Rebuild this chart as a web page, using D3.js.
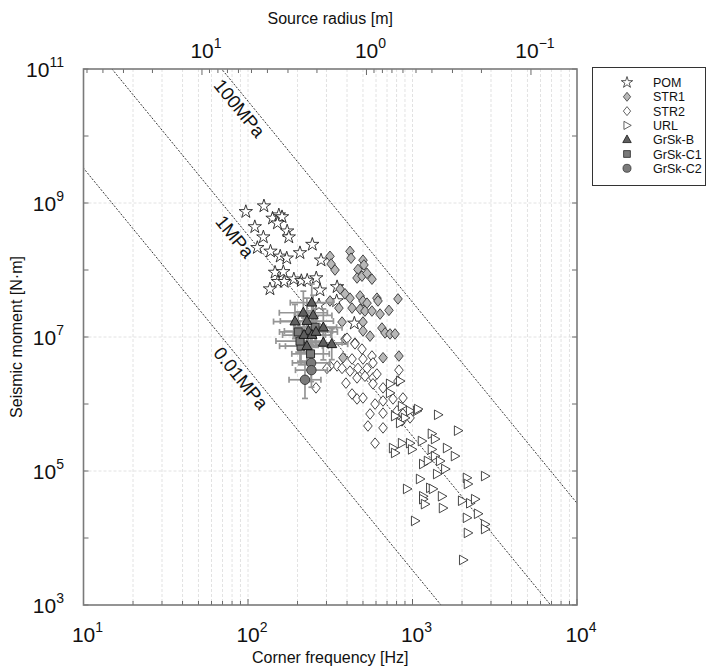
<!DOCTYPE html>
<html>
  <head>
    <meta charset="utf-8">
    <title>Seismic moment vs corner frequency</title>
    <script src="https://d3js.org/d3.v7.min.js"></script>
    <style>
      body { margin: 0; background: #fff; font-family: "Liberation Sans", Arial, sans-serif; }
      svg text { fill: #111; }
    </style>
  </head>
  <body>
    <svg></svg>
    <script>
      // [corner frequency Hz, seismic moment N.m]
      var pom = [[97,7.4e8],[125,9.0e8],[141,5.9e8],[154,6.6e8],[161,6.2e8],[151,5.0e8],[110,4.4e8],
        [124,3.1e8],[173,3.8e8],[177,3.1e8],[246,2.4e8],[114,2.15e8],[137,1.9e8],[207,1.8e8],
        [157,1.6e8],[172,1.5e8],[278,1.4e8],[146,9.2e7],[164,9.4e7],[152,6.7e7],[166,6.7e7],
        [190,7.3e7],[211,6.9e7],[229,7.0e7],[260,7.6e7],[136,5.2e7],[274,5.0e7],[346,3.45e7],
        [443,1.6e7],[348,5.6e7],[270,3.0e7]];

      var str1 = [[315,1.6e8],[320,1.23e8],[338,1.0e8],[417,1.9e8],[423,1.5e8],[500,1.4e8],[507,1.19e8],
        [466,1.02e8],[460,7.6e7],[493,8.1e7],[529,8.9e7],[567,7.3e7],[363,5.2e7],[389,4.4e7],
        [417,3.8e7],[480,4.1e7],[500,3.45e7],[529,3.2e7],[608,3.8e7],[617,3.45e7],[816,3.7e7],
        [357,2.7e7],[429,2.7e7],[480,2.6e7],[514,2.44e7],[567,2.44e7],[635,2.2e7],[719,2.5e7],
        [373,1.67e7],[500,1.67e7],[652,1.36e7],[681,1.15e7],[730,1.11e7],[783,1.11e7],[500,1.23e7],
        [552,1.03e7],[389,9.3e6],[447,8.1e6],[827,5.2e6],[662,4.9e6],[378,4.9e6],[315,3.45e7]];

      var str2 = [[493,6.6e6],[567,5.2e6],[500,4.7e6],[429,4.7e6],[348,3.7e6],[466,3.4e6],[529,3.4e6],
        [460,2.45e6],[514,2.6e6],[575,2.45e6],[394,2.05e6],[575,2.0e6],[827,3.2e6],[816,2.2e6],
        [662,1.74e6],[429,1.41e6],[460,1.19e6],[500,1.23e6],[592,1.0e6],[662,1.11e6],[761,1.19e6],
        [552,7.1e5],[662,7.3e5],[805,7.9e5],[875,1.23e6],[536,4.7e5],[662,4.4e5],[966,6.2e5],
        [315,3.7e6],[373,3.4e6],[417,3.1e6],[575,4.1e6],[608,2.8e6],[259,1.74e6],[302,3.4e6],
        [592,2.6e5],[863,5.6e5],[875,7.1e5],[400,9.6e6],[447,7.9e6]];

      var url = [[730,2.0e6],[840,2.2e6],[1430,6.9e5],[1890,4.0e5],[1310,3.6e5],[1370,3.0e5],[1620,2.2e5],
        [1810,1.67e5],[1310,2.1e5],[761,2.2e5],[783,1.86e5],[863,2.6e5],[966,2.6e5],[1140,2.8e5],
        [993,2.1e5],[1370,1.67e5],[1470,1.41e5],[1580,1.07e5],[1160,1.27e5],[1240,1.41e5],[1410,9.0e4],
        [1110,7.6e4],[926,5.4e4],[1280,5.6e4],[1330,5.4e4],[1160,4.2e4],[1160,3.8e4],[1190,3.2e4],
        [1510,4.2e4],[1530,2.8e4],[2140,7.9e4],[2170,6.4e4],[2760,8.4e4],[2000,3.6e4],[2240,3.3e4],
        [2400,3.8e4],[2140,2.0e4],[2500,2.3e4],[2760,1.6e4],[2760,1.36e4],[2170,1.19e4],[1036,1.8e4],
        [2030,4.7e3],[730,1.46e6],[863,9.3e5],[966,7.9e5],[900,6.2e5],[1065,7.9e5],[783,6.6e5],
        [840,5.2e5],[1080,8.4e5]];

      // [fc, M0, fc error factor, M0 error factor]
      var grskB = [[244,3.25e7,1.35,1.9],[217,2.3e7,1.4,2.1],[249,2.1e7,1.3,2.0],[193,1.7e7,1.35,1.8],
        [228,1.73e7,1.45,2.2],[287,1.38e7,1.3,1.9],[233,1.23e7,1.4,2.0],[219,1.07e7,1.35,1.8],
        [245,1.07e7,1.3,2.1],[259,1.19e7,1.35,1.7],[287,8.2e6,1.3,1.8],[323,7.8e6,1.25,1.7],
        [228,7.3e6,1.35,1.9]];
      var grskC1 = [[256,1.4e7,1.35,1.9],[202,1.19e7,1.3,2.0],[210,7.3e6,1.35,1.9],[240,5.6e6,1.3,1.8],
        [207,8.7e6,1.4,2.0]];
      var grskC2 = [[242,4.1e6,1.3,1.9],[243,3.2e6,1.25,1.8],[222,2.3e6,1.25,1.9]];

      var stressDrops = [1e8, 1e6, 1e4];           // Pa
      var stressLabels = ["100MPa", "1MPa", "0.01MPa"];
      var stressLabelM0 = [3.3e10, 4.0e8, 3.1e6];   // where the label sits along its line
      var radiusConst = 525;                        // source radius = radiusConst / fc

      var xTicksMajor = [1e1, 1e2, 1e3, 1e4];
      var xTickExp = ["1", "2", "3", "4"];
      var yTicksMajor = [1e3, 1e5, 1e7, 1e9, 1e11];
      var yTickExp = ["3", "5", "7", "9", "11"];
      var rTicksMajor = [10, 1, 0.1];
      var rTickExp = ["1", "0", "-1"];

      var legendNames = ["POM", "STR1", "STR2", "URL", "GrSk-B", "GrSk-C1", "GrSk-C2"];

      var W = 712, H = 667;
      var L = 83.5, R = 577, T = 69, B = 605;

      var svg = d3.select("svg").attr("width", W).attr("height", H);

      var x = d3.scaleLog().domain([10, 1e4]).range([L, R]);
      var y = d3.scaleLog().domain([1e3, 1e11]).range([B, T]);
      var xTop = d3.scaleLog().domain([radiusConst / 10, radiusConst / 1e4]).range([L, R]);

      // minor ticks of the frequency axis
      var xMinor = [];
      [10, 100, 1000].forEach(function(d) {
        for (var k = 1; k < 10; k++) xMinor.push(d * k);
      });
      xMinor.push(1e4);

      // grid
      var grid = svg.append("g").attr("stroke", "#dadada").attr("stroke-dasharray", "3,2").attr("stroke-width", 0.8);
      grid.selectAll("line.v").data(xMinor.filter(function(d) { return d > 10 && d < 1e4; }))
        .enter().append("line")
          .attr("x1", function(d) { return x(d); }).attr("x2", function(d) { return x(d); })
          .attr("y1", T).attr("y2", B);
      grid.selectAll("line.h").data([1e5, 1e7, 1e9])
        .enter().append("line")
          .attr("x1", L).attr("x2", R)
          .attr("y1", function(d) { return y(d); }).attr("y2", function(d) { return y(d); });

      var plot = svg.append("g");
      svg.append("clipPath").attr("id", "clip").append("rect")
        .attr("x", L).attr("y", T).attr("width", R - L).attr("height", B - T);

      // constant stress drop lines: M0 = 16/7 * dsigma * r^3, r = radiusConst / fc
      function m0At(ds, fc) { var r = radiusConst / fc; return 16 / 7 * ds * r * r * r; }
      function fcAt(ds, m0) { return radiusConst / Math.cbrt(m0 / (16 / 7 * ds)); }
      var sd = plot.append("g").attr("clip-path", "url(#clip)");
      stressDrops.forEach(function(ds) {
        sd.append("line")
          .attr("x1", x(1)).attr("y1", y(m0At(ds, 1)))
          .attr("x2", x(1e5)).attr("y2", y(m0At(ds, 1e5)))
          .attr("stroke", "#222").attr("stroke-width", 0.9).attr("stroke-dasharray", "2,1.5");
      });
      var ang = Math.atan2(y(1e3) - y(1e6), x(1e2) - x(10)) * 180 / Math.PI;
      stressDrops.forEach(function(ds, i) {
        var m = stressLabelM0[i];
        var px = x(fcAt(ds, m)), py = y(m);
        svg.append("text")
          .attr("transform", "translate(" + px + "," + py + ") rotate(" + ang + ")")
          .attr("text-anchor", "middle").attr("dy", "0.95em")
          .attr("font-size", 18.5).text(stressLabels[i]);
      });

      // marker shapes
      var diamond = "M0,-5.3L4.3,0L0,5.3L-4.3,0Z";
      var triRight = "M-3.6,-4.8L5,0L-3.6,4.8Z";
      var triUp = "M0,-5.6L5,3.4L-5,3.4Z";
      var square = "M-4,-4H4V4H-4Z";
      var star = d3.symbol().type(d3.symbolStar).size(55)();
      var circle = d3.symbol().type(d3.symbolCircle).size(70)();

      function drawSet(data, path, fill, stroke, sw) {
        plot.append("g").selectAll("path").data(data).enter().append("path")
          .attr("d", path)
          .attr("transform", function(d) { return "translate(" + x(d[0]) + "," + y(d[1]) + ")"; })
          .attr("fill", fill).attr("stroke", stroke).attr("stroke-width", sw);
      }
      drawSet(pom, star, "#fff", "#222", 0.9);
      drawSet(str1, diamond, "#b8b8b8", "#333", 0.9);
      drawSet(str2, diamond, "#fff", "#333", 0.9);
      drawSet(url, triRight, "#fff", "#333", 0.9);

      // error bars for GrSk
      var errs = plot.append("g").attr("stroke", "#959595").attr("stroke-width", 1.7);
      grskB.concat(grskC1, grskC2).forEach(function(d) {
        var cx = x(d[0]), cy = y(d[1]);
        var x0 = x(d[0] / d[2]), x1 = x(d[0] * d[2]);
        var y0 = y(d[1] / d[3]), y1 = y(d[1] * d[3]);
        errs.append("line").attr("x1", x0).attr("x2", x1).attr("y1", cy).attr("y2", cy);
        errs.append("line").attr("x1", x0).attr("x2", x0).attr("y1", cy - 3).attr("y2", cy + 3);
        errs.append("line").attr("x1", x1).attr("x2", x1).attr("y1", cy - 3).attr("y2", cy + 3);
        errs.append("line").attr("x1", cx).attr("x2", cx).attr("y1", y0).attr("y2", y1);
        errs.append("line").attr("x1", cx - 3).attr("x2", cx + 3).attr("y1", y0).attr("y2", y0);
        errs.append("line").attr("x1", cx - 3).attr("x2", cx + 3).attr("y1", y1).attr("y2", y1);
      });
      drawSet(grskC2, circle, "#7a7a7a", "#333", 0.9);
      drawSet(grskC1, square, "#7a7a7a", "#222", 0.9);
      drawSet(grskB, triUp, "#5e5e5e", "#111", 0.9);

      // frame and ticks
      var ax = svg.append("g").attr("stroke", "#444").attr("stroke-width", 0.8);
      xMinor.forEach(function(d) {
        var big = xTicksMajor.indexOf(d) >= 0;
        ax.append("line").attr("x1", x(d)).attr("x2", x(d)).attr("y1", B).attr("y2", B - (big ? 6 : 4));
      });
      var rMinor = [];
      [10, 1, 0.1].forEach(function(d) {
        for (var k = 1; k < 10; k++) rMinor.push(d * k);
      });
      rMinor.filter(function(d) { return d <= radiusConst / 10 && d >= radiusConst / 1e4; }).forEach(function(d) {
        var big = rTicksMajor.indexOf(d) >= 0;
        ax.append("line").attr("x1", xTop(d)).attr("x2", xTop(d)).attr("y1", T).attr("y2", T + (big ? 6 : 4));
      });
      yTicksMajor.concat([1e4, 1e6, 1e8, 1e10]).forEach(function(d) {
        ax.append("line").attr("x1", L).attr("x2", L + 5).attr("y1", y(d)).attr("y2", y(d));
        ax.append("line").attr("x1", R).attr("x2", R - 5).attr("y1", y(d)).attr("y2", y(d));
      });
      svg.append("rect").attr("x", L).attr("y", T).attr("width", R - L).attr("height", B - T)
        .attr("fill", "none").attr("stroke", "#7a7a7a").attr("stroke-width", 1.6);

      function powLabel(g, px, py, exp, anchor) {
        var t = g.append("text").attr("x", px).attr("y", py).attr("font-size", 21).attr("text-anchor", anchor);
        t.append("tspan").text("10");
        t.append("tspan").attr("dy", -10).attr("font-size", 14).text(exp.replace("-", "\u2212"));
      }
      var lab = svg.append("g");
      xTicksMajor.forEach(function(d, i) { powLabel(lab, x(d) + 4, 642, xTickExp[i], "middle"); });
      rTicksMajor.forEach(function(d, i) { powLabel(lab, xTop(d) + 4, 58, rTickExp[i], "middle"); });
      yTicksMajor.forEach(function(d, i) { powLabel(lab, 64, y(d) + 8, yTickExp[i], "end"); });

      svg.append("text").attr("x", (L + R) / 2).attr("y", 663).attr("text-anchor", "middle")
        .attr("font-size", 16).text("Corner frequency [Hz]");
      svg.append("text").attr("x", (L + R) / 2).attr("y", 24).attr("text-anchor", "middle")
        .attr("font-size", 16).text("Source radius [m]");
      svg.append("text").attr("transform", "translate(22," + (T + B) / 2 + ") rotate(-90)")
        .attr("text-anchor", "middle").attr("font-size", 16).text("Seismic moment [N\u00b7m]");

      // legend
      var lg = svg.append("g");
      lg.append("rect").attr("x", 592.5).attr("y", 67.5).attr("width", 113).attr("height", 118)
        .attr("fill", "#fff").attr("stroke", "#333").attr("stroke-width", 1);
      var legShapes = [
        [star, "#fff", "#222"], [diamond, "#b8b8b8", "#333"], [diamond, "#fff", "#333"],
        [triRight, "#fff", "#333"], [triUp, "#5e5e5e", "#111"], [square, "#7a7a7a", "#222"],
        [circle, "#7a7a7a", "#333"]];
      legendNames.forEach(function(n, i) {
        var ly = 82.5 + i * 14.3;
        lg.append("path").attr("d", legShapes[i][0])
          .attr("transform", "translate(627," + ly + ") scale(0.85)")
          .attr("fill", legShapes[i][1]).attr("stroke", legShapes[i][2]).attr("stroke-width", 0.9);
        lg.append("text").attr("x", 653).attr("y", ly + 4.5).attr("font-size", 12.5).text(n);
      });
    </script>
  </body>
</html>
